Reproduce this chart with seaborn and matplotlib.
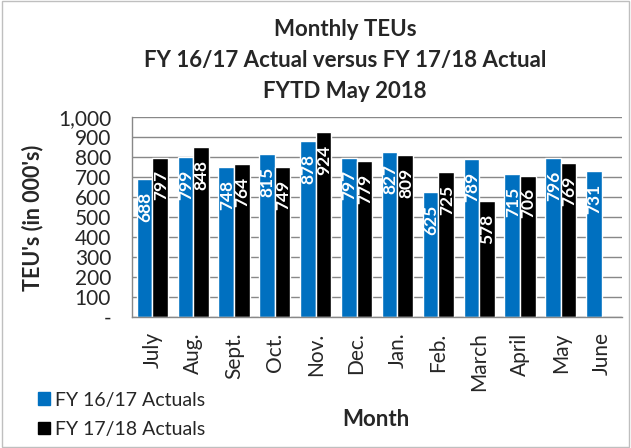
import numpy as np
import pandas as pd
import matplotlib
matplotlib.use("Agg")
import matplotlib.pyplot as plt
import seaborn as sns
from matplotlib.patches import Rectangle

# data (TEUs in 000's)
months = ['July', 'Aug.', 'Sept.', 'Oct.', 'Nov.', 'Dec.', 'Jan.', 'Feb.',
          'March', 'April', 'May', 'June']
fy1617 = [688, 799, 748, 815, 878, 797, 827, 625, 789, 715, 796, 731]
fy1718 = [797, 848, 764, 749, 924, 779, 809, 725, 578, 706, 769, np.nan]
series = ['FY 16/17 Actuals', 'FY 17/18 Actuals']
colors = ['#0070C0', '#000000']

df = pd.DataFrame({
    'Month': months * 2,
    'TEU': fy1617 + fy1718,
    'Series': [series[0]] * 12 + [series[1]] * 12,
})

sns.set_style('white')
plt.rcParams['font.family'] = ['Lato', 'DejaVu Sans']

fig = plt.figure(figsize=(6.31, 4.48), dpi=100)
ax = fig.add_axes([0.209, 0.2924, 0.777, 0.4464])

sns.barplot(data=df, x='Month', y='TEU', hue='Series', palette=colors,
            order=months, hue_order=series, width=0.76, saturation=1,
            legend=False, ax=ax)

# value labels inside bars, rotated, a little below the bar top
for cont in ax.containers:
    for bar in cont:
        h = bar.get_height()
        if np.isnan(h) or h == 0:
            continue
        ax.annotate(f'{int(h)}', (bar.get_x() + bar.get_width() / 2, h),
                    xytext=(0.5, -9), textcoords='offset points',
                    rotation=90, ha='center', va='top', color='white',
                    fontsize=12.5, fontweight='bold')

ax.set_ylim(0, 1000)
ax.set_xlim(-0.5, 11.5)
ax.set_yticks(range(0, 1001, 100))
ax.set_yticklabels(['-'] + [f'{v:,}' for v in range(100, 1001, 100)], fontsize=15)
ax.tick_params(axis='y', length=0, pad=15)
ax.set_xticks(range(12))
ax.set_xticklabels(months, rotation=90, fontsize=15)
ax.tick_params(axis='x', which='major', length=0, pad=11)
ax.set_xticks(np.arange(-0.5, 12, 1), minor=True)
ax.tick_params(axis='x', which='minor', length=6, color='#888888', width=1)
ax.yaxis.grid(True, color='#888888', linewidth=1)
ax.set_axisbelow(True)
for side in ['top', 'right']:
    ax.spines[side].set_visible(False)
for side in ['left', 'bottom']:
    ax.spines[side].set_color('#888888')
    ax.spines[side].set_linewidth(1)

ax.set_ylabel('')
ax.set_xlabel('')
fig.text(33 / 631, 1 - 218 / 448, "TEU's (in 000's)", fontsize=15.5, fontweight='bold',
         rotation=90, ha='center', va='center')
fig.text(376 / 631, 1 - 419 / 448, 'Month', fontsize=16, fontweight='bold',
         ha='center', va='center')

for txt, yp in [('Monthly TEUs', 30), ('FY 16/17 Actual versus FY 17/18 Actual', 61),
                ('FYTD May 2018', 92)]:
    fig.text(345 / 631, 1 - yp / 448, txt, fontsize=16, fontweight='bold',
             ha='center', va='center')

# legend at lower left
handles = [Rectangle((0, 0), 1, 1, color=c) for c in colors]
fig.legend(handles, series, loc='lower left', bbox_to_anchor=(0.035, -0.012),
           frameon=False, fontsize=14, handlelength=0.65, handleheight=0.65,
           handletextpad=0.25, labelspacing=0.62, borderpad=0.3)

# light frame around the whole chart
fig.patches.append(Rectangle((0.003, 0.003), 0.994, 0.994, transform=fig.transFigure,
                             fill=False, edgecolor='#bfbfbf', linewidth=1))

plt.savefig('out.png', dpi=100)
